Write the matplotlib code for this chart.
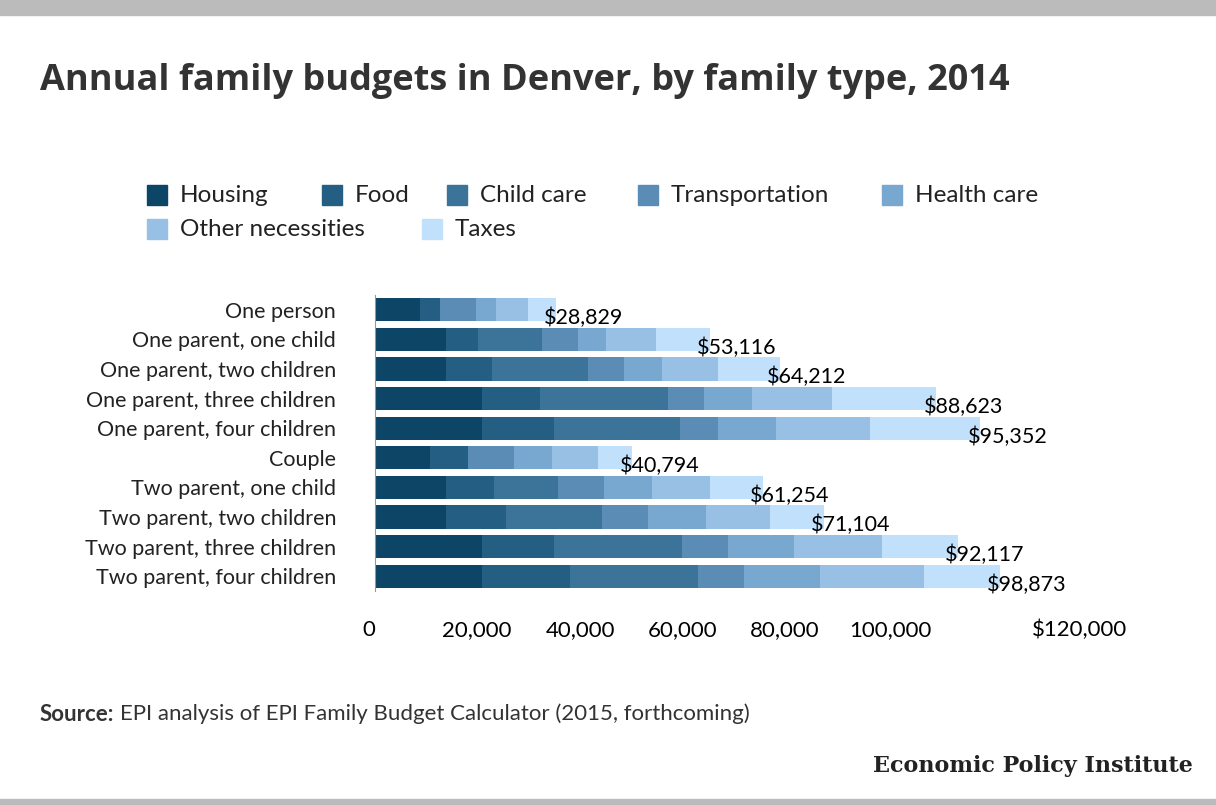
import matplotlib
matplotlib.use("Agg")
import matplotlib.pyplot as plt
import numpy as np

categories = ["One person", "One parent, one child", "One parent, two children",
              "One parent, three children", "One parent, four children", "Couple",
              "Two parent, one child", "Two parent, two children",
              "Two parent, three children", "Two parent, four children"]
series = ["Housing", "Food", "Child care", "Transportation", "Health care",
          "Other necessities", "Taxes"]
housing = [7.7, 12.1, 12.1, 18.2, 18.2, 9.4, 12.1, 12.1, 18.2, 18.2]
food = [3.4, 5.4, 7.8, 9.9, 12.3, 6.5, 8.2, 10.2, 12.3, 15.0]
child_care = [0, 10.9, 16.3, 21.8, 21.4, 0, 10.9, 16.3, 21.8, 21.8]
transportation = [6.1, 6.1, 6.1, 6.1, 6.5, 7.8, 7.8, 7.8, 7.8, 7.8]
health_care = [3.4, 4.8, 6.5, 8.2, 9.9, 6.5, 8.2, 9.9, 11.2, 12.9]
other = [5.4, 8.5, 9.5, 13.6, 16.0, 7.8, 9.9, 10.9, 15.0, 17.7]
taxes = [4.8, 9.2, 10.6, 17.7, 18.7, 5.8, 8.9, 9.2, 12.9, 12.9]
totals = ["$28,829", "$53,116", "$64,212", "$88,623", "$95,352", "$40,794",
          "$61,254", "$71,104", "$92,117", "$98,873"]
tick_labels = ["0", "20,000", "40,000", "60,000", "80,000", "100,000", "$120,000"]
tick_pos = [0, 17.4, 34.9, 52.3, 69.8, 87.7, 120.0]
colors = ["#0c4566", "#245f83", "#3c7399", "#5a8cb5", "#78a7cf", "#97c0e4", "#c1e0fc"]

data = [housing, food, child_care, transportation, health_care, other, taxes]

fig = plt.figure(figsize=(12.16, 8.05), dpi=100)
fig.patches.append(plt.Rectangle((0, 1 - 15/805), 1, 15/805, transform=fig.transFigure, color="#bbbbbb"))
fig.patches.append(plt.Rectangle((0, 0), 1, 6/805, transform=fig.transFigure, color="#bbbbbb"))
ax = fig.add_axes([375/1216, 1 - 591/805, 705/1216, 296/805])
y = np.arange(len(categories))
left = np.zeros(len(categories))
for name, vals, c in zip(series, data, colors):
    ax.barh(y, vals, left=left, color=c, height=0.78, label=name)
    left += np.array(vals)
for i, t in enumerate(totals):
    ax.annotate(t, (left[i], y[i]), xytext=(-9, -6), textcoords="offset points",
                ha="left", va="center", fontsize=15.5, family="Lato")
ax.set_xticks(tick_pos)
ax.set_xticklabels(tick_labels, fontsize=16, family="Lato", va="top")
ax.get_xticklabels()[0].set_ha("right")
ax.set_xlim(0, 120)
ax.set_ylim(len(categories) - 0.5, -0.5)
ax.set_yticks(y)
ax.set_yticklabels(categories, fontsize=15.5, family="Lato", color="#222222")
ax.tick_params(length=0, pad=21, axis="x")
ax.tick_params(length=0, pad=28, axis="y")
for s in ["top", "right", "bottom"]:
    ax.spines[s].set_visible(False)
ax.spines["left"].set_color("#999999")

# manual flow legend
leg_x = [147, 322, 447, 638, 882, 147, 422]
leg_y = [195, 195, 195, 195, 195, 229, 229]
for name, c, lx, ly in zip(series, colors, leg_x, leg_y):
    fig.patches.append(plt.Rectangle((lx/1216, 1 - (ly + 10)/805), 20/1216, 20/805,
                                     transform=fig.transFigure, color=c))
    fig.text((lx + 33)/1216, 1 - ly/805, name, fontsize=17.5, family="Lato",
             color="#222222", va="center")

fig.text(40/1216, 1 - 81/805, "Annual family budgets in Denver, by family type, 2014",
         fontsize=26, fontweight="bold", family="Open Sans", color="#333333", va="center")
fig.text(40/1216, 1 - 714/805, "Source:", fontsize=16, fontweight="bold", family="Lato",
         color="#333333", va="center")
fig.text(120/1216, 1 - 714/805, "EPI analysis of EPI Family Budget Calculator (2015, forthcoming)",
         fontsize=16, family="Lato", color="#333333", va="center")
fig.text(1193/1216, 1 - 766/805, "Economic Policy Institute", fontsize=16, fontweight="bold",
         family="DejaVu Serif", color="#222222", ha="right", va="center")
fig.savefig("out.png", dpi=100)
